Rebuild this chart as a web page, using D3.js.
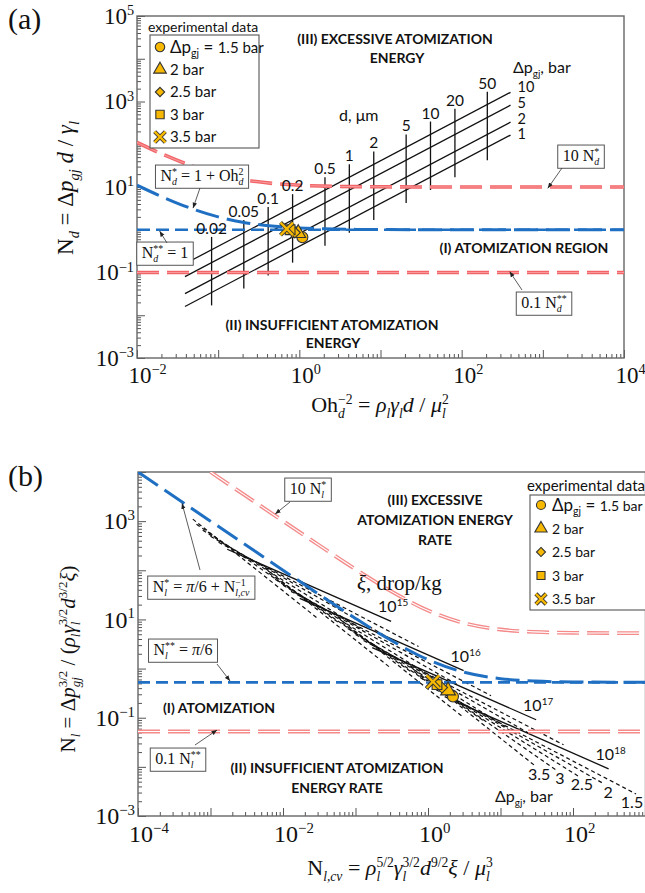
<!DOCTYPE html>
<html>
<head>
<meta charset="utf-8">
<script src="https://cdnjs.cloudflare.com/ajax/libs/d3/7.8.5/d3.min.js"></script>
<style>
  body { margin: 0; background: #fff; }
  svg { display: block; }
  .tick line { stroke: #555; }
</style>
</head>
<body>
<div class="chart"></div>
<script>
var serif = "'Liberation Serif','Times New Roman',serif",
    sans = "Lato,'Open Sans',sans-serif";
var blue = "#1f6fc2", red = "#f26468", pink = "#f48a8a", gold = "#f6b800", ink = "#111";

// ---------- panel (a) data ----------
var xTickExpA = [-2, 0, 2, 4], yTickExpA = [-3, -1, 1, 3, 5];
var dpBarsA = ["10", "5", "2", "1"];
var dpLineOhA = [0.039, 400];                       // Oh^-2 range of the Δp lines
var dpLineNdA = [[0.16, 1640], [0.08, 820], [0.032, 328], [0.016, 164]];
var dUm = ["0.02", "0.05", "0.1", "0.2", "0.5", "1", "2", "5", "10", "20", "50"];
var dOh = [0.083, 0.207, 0.413, 0.826, 2.07, 4.13, 8.26, 20.7, 41.3, 82.6, 207];
var dNdLo = [0.017, 0.042, 0.085, 0.17, 0.42, 0.85, 1.7, 4.2, 8.5, 17, 42];
var dNdHi = [0.68, 1.7, 3.4, 6.8, 17, 34, 68, 170, 340, 680, 1700];
var curveOhA = [0.01, 0.02, 0.05, 0.1, 0.2, 0.5, 1, 2, 5, 10, 100, 10000];
var nStarA = [11, 6, 3, 2, 1.5, 1.2, 1.1, 1.05, 1.02, 1.01, 1.0, 1.0];
var tenNStarA = [110, 60, 30, 20, 15, 12, 11, 10.5, 10.2, 10.1, 10, 10];
var nStarStarA = 1, tenthNStarStarA = 0.1;
var expLabels = ["1.5 bar", "2 bar", "2.5 bar", "3 bar", "3.5 bar"];
var expOhA = [1.09, 0.97, 0.88, 0.77, 0.70];
var expNdA = [0.67, 0.83, 0.86, 1.0, 1.05];

// ---------- panel (b) data ----------
var xTickExpB = [-4, -2, 0, 2], yTickExpB = [-3, -1, 1, 3];
var curveNcvB = [1e-4, 3e-4, 1e-3, 3e-3, 1e-2, 3e-2, 0.1, 0.3, 1, 3, 10, 30, 100, 1000];
var nStarB = [10000, 3334, 1000, 334, 100.5, 33.9, 10.5, 3.86, 1.52, 0.857, 0.624, 0.557, 0.534, 0.525];
var tenNcvB = [1e-3, 3e-3, 1e-2, 3e-2, 0.1, 0.3, 1, 3, 10, 30, 100, 1000];
var tenNStarB = [10005, 3339, 1005, 339, 105, 38.6, 15.2, 8.57, 6.24, 5.57, 5.34, 5.25];
var nStarStarB = 0.524, tenthNStarStarB = 0.0524;
var xiExp = ["15", "16", "17", "18"];
// solid ξ lines: [Ncv start, Nl start, Ncv end, Nl end]
var xiLines = [[1.7e-3, 268, 0.31, 9.1], [1.7e-2, 26.8, 3.1, 0.91], [0.17, 2.68, 31, 0.091], [1.7, 0.268, 310, 0.0091]];
var dpB = ["1.5", "2", "2.5", "3", "3.5"];
// dashed Δp lines for each ξ, same layout
var dpLinesB = [
  [[1.29e-3, 372, 0.74, 2.81], [1e-3, 494, 0.268, 4.5], [7.8e-4, 655, 0.117, 6.55], [6.4e-4, 869, 0.058, 8.7], [5.7e-4, 1100, 0.030, 10.5]],
  [[1.29e-2, 37.2, 7.4, 0.281], [1e-2, 49.4, 2.68, 0.45], [7.8e-3, 65.5, 1.17, 0.655], [6.4e-3, 86.9, 0.58, 0.87], [5.7e-3, 110, 0.30, 1.05]],
  [[0.129, 3.72, 74, 0.0281], [0.1, 4.94, 26.8, 0.045], [0.078, 6.55, 11.7, 0.0655], [0.064, 8.69, 5.8, 0.087], [0.057, 11.0, 3.0, 0.105]],
  [[1.29, 0.372, 740, 0.00281], [1.0, 0.494, 268, 0.0045], [0.78, 0.655, 117, 0.00655], [0.64, 0.869, 58, 0.0087], [0.57, 1.10, 30, 0.0105]]
];
var expNcvB = [2.21, 1.89, 1.56, 1.33, 1.17];
var expNlB = [0.27, 0.356, 0.41, 0.47, 0.54];

var svg = d3.select(".chart").append("svg").attr("width", 645).attr("height", 893);
var defs = svg.append("defs");
defs.append("marker").attr("id", "arr").attr("viewBox", "0 0 10 10").attr("refX", 10).attr("refY", 5)
    .attr("markerWidth", 7).attr("markerHeight", 7).attr("orient", "auto")
  .append("path").attr("d", "M0,1L10,5L0,9Z").attr("fill", "#222");

var xa = d3.scaleLog().domain([1e-2, 1e4]).range([137, 624]);
var ya = d3.scaleLog().domain([1e-3, 1e5]).range([358, 16]);
var xb = d3.scaleLog().domain([1e-4, 1e3]).range([138, 645.5]);
var yb = d3.scaleLog().domain([1e-3, 1e4]).range([816, 472]);

// text with sub/superscripts: parts = [text, "sub"|"sup", italic, stacked]
function rich(t, parts, size) {
  var cur = 0, lastW = 0, pad = 0;
  parts.forEach(function(p) {
    var kind = p[1] || "";
    var fs = kind ? size * 0.62 : size;
    var off = kind == "sub" ? size * 0.26 : kind == "sup" ? -size * 0.38 : 0;
    var ts = t.append("tspan").text(p[0]).attr("font-size", fs).attr("dy", off - cur);
    if (p[2]) ts.attr("font-style", "italic");
    var dx = p[3] ? -lastW : pad;
    if (dx) ts.attr("dx", dx);
    var w = ts.node().getComputedTextLength();
    pad = p[3] ? Math.max(0, lastW - w) : 0;
    lastW = w;
    cur = off;
  });
  return t;
}
function txt(x, y, family, size, anchor) {
  return svg.append("text").attr("x", x).attr("y", y).attr("font-family", family)
    .attr("font-size", size).attr("text-anchor", anchor || "start").attr("fill", ink);
}

function minorTicks(lo, hi) {
  var t = [];
  for (var e = lo; e < hi; e++) for (var k = 2; k < 10; k++) t.push(k * Math.pow(10, e));
  return t;
}
function majorTicks(lo, hi) {
  var t = [];
  for (var e = lo; e <= hi; e++) t.push(Math.pow(10, e));
  return t;
}

function frame(x, y, xExp, yExp, id, fs) {
  var x0 = x.range()[0], x1 = x.range()[1], y0 = y.range()[0], y1 = y.range()[1];
  var xd = x.domain().map(Math.log10), yd = y.domain().map(Math.log10);
  defs.append("clipPath").attr("id", id).append("rect")
    .attr("x", x0).attr("y", y1).attr("width", x1 - x0).attr("height", y0 - y1);
  var g = svg.append("g");
  [[minorTicks, -4], [majorTicks, -8]].forEach(function(s) {
    g.append("g").attr("transform", "translate(0," + y0 + ")")
      .call(d3.axisBottom(x).tickValues(s[0](xd[0], xd[1])).tickSize(s[1]).tickFormat(""))
      .call(function(a) { a.select(".domain").remove(); });
    g.append("g").attr("transform", "translate(" + x0 + ",0)")
      .call(d3.axisLeft(y).tickValues(s[0](yd[0], yd[1])).tickSize(s[1]).tickFormat(""))
      .call(function(a) { a.select(".domain").remove(); });
  });
  g.append("rect").attr("x", x0).attr("y", y1).attr("width", x1 - x0).attr("height", y0 - y1)
    .attr("fill", "none").attr("stroke", "#666").attr("stroke-width", 1.4);
  xExp.forEach(function(e) {
    rich(txt(x(Math.pow(10, e)) - fs * 0.5 + 3, y0 + fs + 2, serif, fs),
      [["10"], [String(e).replace("-", "\u2212"), "sup"]], fs);
  });
  yExp.forEach(function(e) {
    rich(txt(x0 - 3, y(Math.pow(10, e)) + fs * 0.34, serif, fs, "end"),
      [["10"], [String(e).replace("-", "\u2212"), "sup"]], fs);
  });
  return svg.append("g").attr("clip-path", "url(#" + id + ")");
}

function dashed(g, line, pts, color, w, dash, inner) {
  g.append("path").attr("d", line(pts)).attr("fill", "none").attr("stroke", color)
    .attr("stroke-width", w).attr("stroke-dasharray", dash);
  if (inner) g.append("path").attr("d", line(pts)).attr("fill", "none").attr("stroke", inner)
    .attr("stroke-width", 1.1).attr("stroke-dasharray", dash);
}

var symTypes = [d3.symbolCircle, d3.symbolTriangle, d3.symbolDiamond2 || d3.symbolDiamond, d3.symbolSquare, null];
function marker(g, i, cx, cy, s) {
  if (i == 4) {
    var xs = d3.symbol().type(d3.symbolTimes || d3.symbolCross).size(s * 1.1)();
    g.append("path").attr("d", xs).attr("transform", "translate(" + cx + "," + cy + ")")
      .attr("fill", "none").attr("stroke", "#333").attr("stroke-width", 4.2);
    g.append("path").attr("d", xs).attr("transform", "translate(" + cx + "," + cy + ")")
      .attr("fill", "none").attr("stroke", gold).attr("stroke-width", 2.4);
    return;
  }
  g.append("path").attr("d", d3.symbol().type(symTypes[i]).size(i == 2 ? s * 0.8 : s)())
    .attr("transform", "translate(" + cx + "," + cy + ")")
    .attr("fill", gold).attr("stroke", "#333").attr("stroke-width", 1.1);
}

function annot(cx, cy, parts, size, tail, tip) {
  var t = rich(txt(cx, cy + size * 0.32, serif, size, "middle"), parts, size);
  var b = t.node().getBBox();
  svg.insert("rect", function() { return t.node(); })
    .attr("x", b.x - 5).attr("y", b.y - 1).attr("width", b.width + 10).attr("height", b.height + 2)
    .attr("fill", "#fff").attr("stroke", "#555").attr("stroke-width", 1);
  svg.append("line").attr("x1", tail[0]).attr("y1", tail[1]).attr("x2", tip[0]).attr("y2", tip[1])
    .attr("stroke", "#333").attr("stroke-width", 0.8).attr("marker-end", "url(#arr)");
}

function bold(x, y, s, size) {
  txt(x, y, sans, size || 14, "middle").attr("font-weight", "bold").text(s);
}

// ================= panel (a) =================
var pa = frame(xa, ya, xTickExpA, yTickExpA, "clipA", 23);
var lineA = d3.line().x(function(d) { return xa(d[0]); }).y(function(d) { return ya(d[1]); });
var curveA = d3.line().x(function(d) { return xa(d[0]); }).y(function(d) { return ya(d[1]); }).curve(d3.curveMonotoneX);

dpBarsA.forEach(function(b, i) {
  pa.append("path").attr("d", lineA([[dpLineOhA[0], dpLineNdA[i][0]], [dpLineOhA[1], dpLineNdA[i][1]]]))
    .attr("stroke", ink).attr("stroke-width", 1.3).attr("fill", "none");
  txt(xa(dpLineOhA[1]) + 7, ya(dpLineNdA[0][1]) + 15.7 * i, sans, 14.5).text(b);
});
dOh.forEach(function(o, i) {
  pa.append("path").attr("d", lineA([[o, dNdLo[i]], [o, dNdHi[i]]]))
    .attr("stroke", ink).attr("stroke-width", 1.3).attr("fill", "none");
  txt(xa(o), ya(dNdHi[i]) - 3, sans, 15.5, "middle").text(dUm[i]);
});
rich(txt(513, 73, sans, 16), [["\u0394p"], ["gj", "sub"], [", bar"]], 16);
txt(339, 121, sans, 16).text("d, \u03bcm");

dashed(pa, lineA, [[1e-2, tenthNStarStarA], [1e4, tenthNStarStarA]], red, 3.6, "22,8", "#f79a9a");
dashed(pa, curveA, curveOhA.map(function(o, i) { return [o, tenNStarA[i]]; }), red, 3.6, "22,8", "#f79a9a");
dashed(pa, lineA, [[1e-2, nStarStarA], [1e4, nStarStarA]], blue, 2.6, "13,6");
dashed(pa, curveA, curveOhA.map(function(o, i) { return [o, nStarA[i]]; }), blue, 3, "24,8");

expOhA.forEach(function(o, i) {
  pa.append("line").attr("x1", xa(o * 0.86)).attr("x2", xa(o)).attr("y1", ya(expNdA[i])).attr("y2", ya(expNdA[i]))
    .attr("stroke", "#999").attr("stroke-width", 0.8);
});
expOhA.forEach(function(o, i) { marker(pa, i, xa(o), ya(expNdA[i]), 95); });

// legend (a)
txt(148, 32, sans, 14).text("experimental data");
svg.append("rect").attr("x", 150).attr("y", 35).attr("width", 109).attr("height", 113)
  .attr("fill", "#fff").attr("stroke", "#555").attr("stroke-width", 1.1);
expLabels.forEach(function(l, i) {
  var yy = 47 + 22.5 * i;
  marker(svg, i, 160, yy, 70);
  if (i == 0) rich(txt(170, yy + 6, sans, 17), [["\u0394p"], ["gj", "sub"], [" = "], ["1.5 bar"]], 17)
    .selectAll("tspan").filter(function(d, j) { return j == 3; }).attr("font-size", 15);
  else txt(170, yy + 5, sans, 15).text(l);
});

bold(395, 44, "(III) EXCESSIVE ATOMIZATION");
bold(397, 63, "ENERGY");
bold(524, 253, "(I) ATOMIZATION REGION");
bold(332, 330, "(II) INSUFFICIENT ATOMIZATION");
bold(333, 348, "ENERGY");

annot(202, 176, [["N"], ["*", "sup"], ["d", "sub", true, 1], [" = 1 + Oh"], ["2", "sup"], ["d", "sub", true, 1]], 16,
  [200, 188], [xa(0.049), ya(3.2)]);
annot(165, 253, [["N"], ["**", "sup"], ["d", "sub", true, 1], [" = 1"]], 16, [167, 243], [xa(0.019), ya(0.93)]);
annot(581, 156, [["10 N"], ["*", "sup"], ["d", "sub", true, 1]], 16, [562, 168], [xa(1150), ya(9.3)]);
annot(544, 303, [["0.1 N"], ["**", "sup"], ["d", "sub", true, 1]], 16, [522, 290], [xa(390), ya(0.105)]);

txt(8, 29, serif, 30).text("(a)");
rich(svg.append("text").attr("transform", "translate(73,188) rotate(-90)").attr("font-family", serif)
  .attr("font-size", 23).attr("text-anchor", "middle").attr("fill", ink),
  [["N"], ["d", "sub", true], [" = \u0394"], ["p", "", true], ["gj", "sub", true], [" d", "", true], [" / "], ["\u03b3", "", true], ["l", "sub", true]], 23);
rich(txt(380, 412, serif, 22, "middle"),
  [["Oh"], ["\u22122", "sup"], ["d", "sub", true, 1], [" = "], ["\u03c1", "", true], ["l", "sub", true], ["\u03b3", "", true], ["l", "sub", true],
   ["d", "", true], [" / "], ["\u03bc", "", true], ["2", "sup"], ["l", "sub", true, 1]], 22);

// ================= panel (b) =================
var pb = frame(xb, yb, xTickExpB, yTickExpB, "clipB", 24);
var lineB = d3.line().x(function(d) { return xb(d[0]); }).y(function(d) { return yb(d[1]); });
var curveB = d3.line().x(function(d) { return xb(d[0]); }).y(function(d) { return yb(d[1]); }).curve(d3.curveMonotoneX);

dpLinesB.forEach(function(group) {
  group.forEach(function(s) {
    pb.append("path").attr("d", lineB([[s[0], s[1]], [s[2], s[3]]])).attr("fill", "none")
      .attr("stroke", ink).attr("stroke-width", 1.2).attr("stroke-dasharray", "4,3");
  });
});
xiLines.forEach(function(s, i) {
  pb.append("path").attr("d", lineB([[s[0], s[1]], [s[2], s[3]]])).attr("fill", "none")
    .attr("stroke", ink).attr("stroke-width", 1.3);
  rich(txt(xb(s[2]) + 2, yb(s[3]) - 9, sans, 16, "middle"), [["10"], [xiExp[i], "sup"]], 16);
});
dpLinesB[3].forEach(function(s, i) {
  txt(Math.min(xb(s[2]) + 4, 632), yb(s[3]) + 14, sans, 16, "middle").text(dpB[i]);
});
rich(txt(495, 802, sans, 16), [["\u0394p"], ["gj", "sub"], [", bar"]], 16);
rich(txt(357, 590, serif, 21), [["\u03be", "", true], [", drop/kg"]], 21);

dashed(pb, lineB, [[1e-4, tenthNStarStarB], [1e3, tenthNStarStarB]], pink, 3.8, "22,8", "#fff");
dashed(pb, curveB, tenNcvB.map(function(o, i) { return [o, tenNStarB[i]]; }), pink, 3.8, "22,8", "#fff");
dashed(pb, lineB, [[1e-4, nStarStarB], [1e3, nStarStarB]], blue, 2.6, "12,6");
dashed(pb, curveB, curveNcvB.map(function(o, i) { return [o, nStarB[i]]; }), blue, 3, "24,8");

expNcvB.forEach(function(o, i) {
  pb.append("line").attr("x1", xb(o * 0.8)).attr("x2", xb(o)).attr("y1", yb(expNlB[i])).attr("y2", yb(expNlB[i]))
    .attr("stroke", "#999").attr("stroke-width", 0.8);
});
expNcvB.forEach(function(o, i) { marker(pb, i, xb(o), yb(expNlB[i]), 95); });

// legend (b)
txt(527, 491, sans, 15).text("experimental data");
svg.append("rect").attr("x", 530).attr("y", 495).attr("width", 130).attr("height", 115)
  .attr("fill", "#fff").attr("stroke", "#555").attr("stroke-width", 1.1);
expLabels.forEach(function(l, i) {
  var yy = 505 + 23.5 * i;
  marker(svg, i, 541, yy, 65);
  if (i == 0) rich(txt(552, yy + 6, sans, 17), [["\u0394p"], ["gj", "sub"], [" = "], ["  1.5 bar"]], 17)
    .selectAll("tspan").filter(function(d, j) { return j == 3; }).attr("font-size", 14);
  else txt(552, yy + 5, sans, 14).text(l);
});

bold(435, 505, "(III) EXCESSIVE");
bold(435, 525, "ATOMIZATION ENERGY");
bold(435, 545, "RATE");
bold(219, 713, "(I) ATOMIZATION");
bold(337, 773, "(II) INSUFFICIENT ATOMIZATION");
bold(337, 793, "ENERGY RATE");

annot(308, 489, [["10 N"], ["*", "sup"], ["l", "sub", true, 1]], 16, [290, 502], [xb(0.0078), yb(1400)]);
annot(201, 587, [["N"], ["*", "sup"], ["l", "sub", true, 1], [" = "], ["\u03c0", "", true], ["/6 + N"], ["\u22121", "sup"], ["l,cv", "sub", true, 1]], 16,
  [200, 570], [xb(4.05e-4), yb(2300)]);
annot(183, 650, [["N"], ["**", "sup"], ["l", "sub", true, 1], [" = "], ["\u03c0", "", true], ["/6"]], 16, [217, 664], [xb(1.86e-3), yb(0.56)]);
annot(178, 759, [["0.1 N"], ["**", "sup"], ["l", "sub", true, 1]], 16, [195, 745], [xb(1.23e-3), yb(0.056)]);

txt(8, 486, serif, 30).text("(b)");
rich(svg.append("text").attr("transform", "translate(75,659) rotate(-90)").attr("font-family", serif)
  .attr("font-size", 21).attr("text-anchor", "middle").attr("fill", ink),
  [["N"], ["l", "sub", true], [" = \u0394"], ["p", "", true], ["3/2", "sup"], ["gj", "sub", true, 1], [" / ("],
   ["\u03c1", "", true], ["l", "sub", true], ["\u03b3", "", true], ["3/2", "sup"], ["l", "sub", true, 1],
   ["d", "", true], ["3/2", "sup"], ["\u03be", "", true], [")"]], 21);
rich(txt(400, 875, serif, 22, "middle"),
  [["N"], ["l,cv", "sub", true], [" = "], ["\u03c1", "", true], ["5/2", "sup"], ["l", "sub", true, 1],
   ["\u03b3", "", true], ["3/2", "sup"], ["l", "sub", true, 1], ["d", "", true], ["9/2", "sup"], ["\u03be", "", true],
   [" / "], ["\u03bc", "", true], ["3", "sup"], ["l", "sub", true, 1]], 22);
</script>
</body>
</html>
